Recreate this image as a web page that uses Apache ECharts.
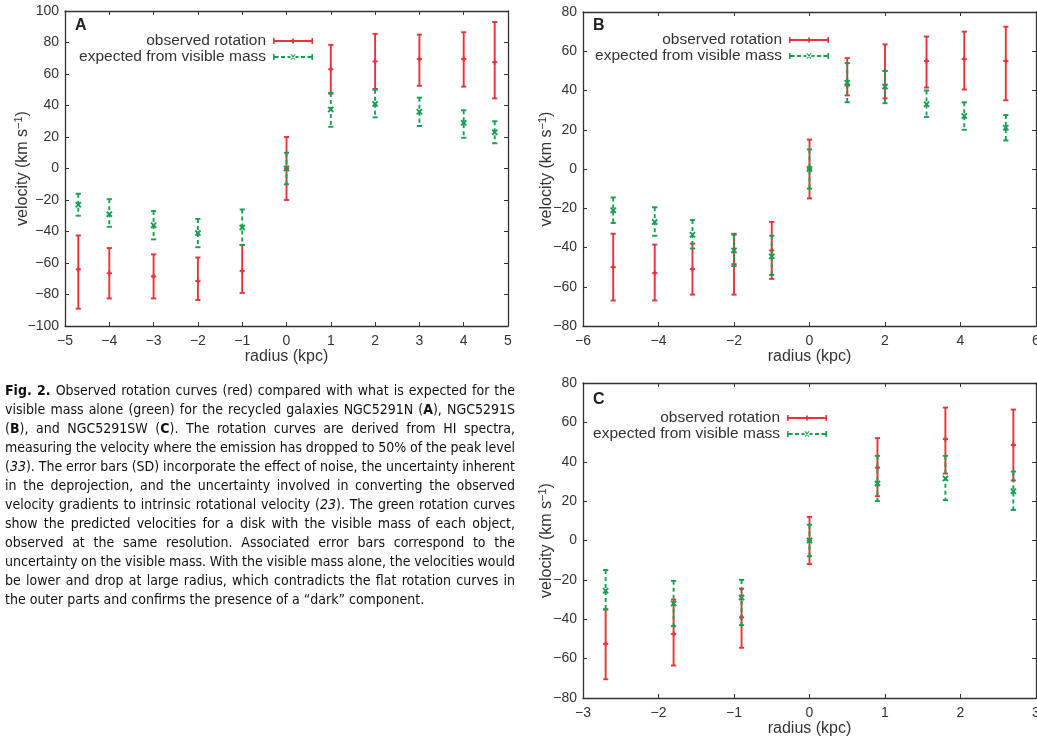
<!DOCTYPE html>
<html><head><meta charset="utf-8">
<script src="https://cdn.jsdelivr.net/npm/echarts@6.0.0/dist/echarts.min.js"></script>
<style>
html,body{margin:0;padding:0;background:#fff;}
#chart{position:absolute;left:0;top:0;width:1037px;height:740px;}
#caption{position:absolute;left:5px;top:381px;width:510px;font-family:"DejaVu Sans Condensed","Liberation Sans Narrow",sans-serif;font-size:14px;line-height:19px;color:#111;}
#caption .ln{white-space:nowrap;height:19px;}
#caption .ln span{display:inline-block;white-space:nowrap;transform-origin:0 50%;}
</style></head><body>
<div id="chart"></div>
<div id="caption"></div>
<script>
// ---------- data ----------
const radiusA = [-4.7, -4, -3, -2, -1, 0, 1, 2, 3, 4, 4.7];
const obsA    = [-64, -66.5, -68.5, -71.5, -65, 0, 63, 68, 69.5, 69.5, 67.5];
const obsALo  = [-89, -82.5, -82.5, -83.5, -79, -20, 47.5, 50.5, 52.5, 52, 44.5];
const obsAHi  = [-42.5, -50.5, -54.5, -56.5, -48.5, 20, 78.5, 85.5, 85, 86.5, 93];
const expA    = [-23, -29, -36, -41, -37.5, 0, 37.5, 41, 36, 29, 23];
const expALo  = [-30, -37, -45, -50, -48.5, -10, 26.5, 32.5, 27, 19.5, 16];
const expAHi  = [-16, -19.5, -27, -32, -26, 10, 48, 50, 45, 37, 30];

const radiusB = [-5.2, -4.1, -3.1, -2, -1, 0, 1, 2, 3.1, 4.1, 5.2];
const obsB    = [-50, -53, -51, -48.5, -41.5, 0, 42.5, 50, 55, 56, 55];
const obsBLo  = [-67, -67, -64, -64, -56, -15, 37.5, 36, 41.5, 40.5, 35];
const obsBHi  = [-33, -38.5, -38, -33, -27, 15, 56.5, 63.5, 67.5, 70, 72.5];
const expB    = [-21, -27, -33.5, -41.5, -44.5, 0, 44, 42, 33, 27, 21];
const expBLo  = [-27.5, -34, -40.5, -49.5, -54, -10, 34, 33.5, 26.5, 20, 14.5];
const expBHi  = [-14.5, -19.5, -26, -33.5, -34, 10, 54, 50, 40, 34, 27.5];

const radiusC = [-2.7, -1.8, -0.9, 0, 0.9, 1.8, 2.7];
const obsC    = [-52.5, -47.5, -39, 0, 37, 51.5, 48.5];
const obsCLo  = [-70.5, -63.5, -54.5, -12, 22.5, 34, 30.5];
const obsCHi  = [-35, -30, -24.5, 12, 52, 67.5, 66.5];
const expC    = [-25.5, -32, -29, 0, 29, 31.5, 25];
const expCLo  = [-35, -43.5, -43, -8, 20, 20.5, 15.5];
const expCHi  = [-15, -20.5, -20, 8, 43, 43, 35];

const panelLabels = ['A', 'B', 'C'];
const seriesNames = ['observed rotation', 'expected from visible mass'];
const xLabel = 'radius (kpc)';
const yLabel = 'velocity (km s{sup|\u22121})';

const captionLines = [
  '<b>Fig. 2.</b> Observed rotation curves (red) compared with what is expected for the',
  'visible mass alone (green) for the recycled galaxies NGC5291N (<b>A</b>), NGC5291S',
  '(<b>B</b>), and NGC5291SW (<b>C</b>). The rotation curves are derived from HI spectra,',
  'measuring the velocity where the emission has dropped to 50% of the peak level',
  '(<i>33</i>). The error bars (SD) incorporate the effect of noise, the uncertainty inherent',
  'in the deprojection, and the uncertainty involved in converting the observed',
  'velocity gradients to intrinsic rotational velocity (<i>23</i>). The green rotation curves',
  'show the predicted velocities for a disk with the visible mass of each object,',
  'observed at the same resolution. Associated error bars correspond to the',
  'uncertainty on the visible mass. With the visible mass alone, the velocities would',
  'be lower and drop at large radius, which contradicts the flat rotation curves in',
  'the outer parts and confirms the presence of a \u201cdark\u201d component.'
];

// ---------- styling ----------
const RED = '#e8333b', GREEN = '#16a050', AX = '#333';
const FONT = '"Liberation Sans", Arial, Helvetica, sans-serif';
const minus = v => String(v).replace('-', '\u2212');

const grids = [
  {left: 65, top: 11, width: 443, height: 315},
  {left: 583, top: 12, width: 453, height: 314},
  {left: 583, top: 383, width: 453, height: 315}
];
const ranges = [
  {x: [-5, 5, 1], y: [-100, 100, 20], yGap: 32},
  {x: [-6, 6, 2], y: [-80, 80, 20], yGap: 26},
  {x: [-3, 3, 1], y: [-80, 80, 20], yGap: 26}
];

const xAxes = [], yAxes = [];
ranges.forEach((r, g) => {
  const line = {show: true, onZero: false, lineStyle: {color: AX, width: 1.3}};
  const tick = {show: true, inside: true, length: 4, lineStyle: {color: AX, width: 1}};
  xAxes.push({type: 'value', gridIndex: g, position: 'bottom', min: r.x[0], max: r.x[1], interval: r.x[2],
    axisLine: line, axisTick: tick, splitLine: {show: false},
    axisLabel: {fontSize: 14, color: AX, margin: 8, fontFamily: FONT, formatter: minus},
    name: xLabel, nameLocation: 'middle', nameGap: 23, nameMoveOverlap: false,
    nameTextStyle: {fontSize: 16, color: AX, fontFamily: FONT}});
  xAxes.push({type: 'value', gridIndex: g, position: 'top', min: r.x[0], max: r.x[1], interval: r.x[2],
    axisLine: line, axisTick: tick, splitLine: {show: false}, axisLabel: {show: false}});
  yAxes.push({type: 'value', gridIndex: g, position: 'left', min: r.y[0], max: r.y[1], interval: r.y[2],
    axisLine: line, axisTick: tick, splitLine: {show: false},
    axisLabel: {fontSize: 14, color: AX, margin: 6, fontFamily: FONT, formatter: minus},
    name: yLabel, nameLocation: 'middle', nameGap: r.yGap, nameMoveOverlap: false,
    nameTextStyle: {fontSize: 16, color: AX, fontFamily: FONT,
      rich: {sup: {fontSize: 11, color: AX, fontFamily: FONT, verticalAlign: 'top', padding: [0, 0, 9, 0]}}}});
  yAxes.push({type: 'value', gridIndex: g, position: 'right', min: r.y[0], max: r.y[1], interval: r.y[2],
    axisLine: line, axisTick: tick, splitLine: {show: false}, axisLabel: {show: false}});
});

function errSeries(name, g, xs, ys, los, his, color, dashed, marker) {
  return {
    type: 'custom', name: name, xAxisIndex: g * 2, yAxisIndex: g * 2,
    itemStyle: {color: color},
    data: xs.map((x, i) => [x, ys[i], los[i], his[i]]),
    encode: {x: 0, y: [1, 2, 3]},
    renderItem: function (params, api) {
      const x = api.value(0), y = api.value(1), lo = api.value(2), hi = api.value(3);
      const t = api.coord([x, hi]), b = api.coord([x, lo]), c = api.coord([x, y]);
      const cx = c[0], w = 2.6, m = 2.6;
      const st = {stroke: color, lineWidth: 1.9, fill: null};
      const ds = dashed ? Object.assign({}, st, {lineDash: [4, 3]}) : st;
      const ch = [
        {type: 'line', shape: {x1: cx, y1: t[1], x2: cx, y2: b[1]}, style: ds},
        {type: 'line', shape: {x1: cx - w, y1: t[1], x2: cx + w, y2: t[1]}, style: st},
        {type: 'line', shape: {x1: cx - w, y1: b[1], x2: cx + w, y2: b[1]}, style: st}
      ];
      if (marker === '+') {
        ch.push({type: 'line', shape: {x1: cx - m, y1: c[1], x2: cx + m, y2: c[1]}, style: st});
        ch.push({type: 'line', shape: {x1: cx, y1: c[1] - m, x2: cx, y2: c[1] + m}, style: st});
      } else {
        ch.push({type: 'line', shape: {x1: cx - m, y1: c[1] - m, x2: cx + m, y2: c[1] + m}, style: st});
        ch.push({type: 'line', shape: {x1: cx - m, y1: c[1] + m, x2: cx + m, y2: c[1] - m}, style: st});
      }
      return {type: 'group', children: ch};
    }
  };
}

const series = [
  errSeries(seriesNames[0], 0, radiusA, obsA, obsALo, obsAHi, RED, false, '+'),
  errSeries(seriesNames[1], 0, radiusA, expA, expALo, expAHi, GREEN, true, 'x'),
  errSeries(seriesNames[0], 1, radiusB, obsB, obsBLo, obsBHi, RED, false, '+'),
  errSeries(seriesNames[1], 1, radiusB, expB, expBLo, expBHi, GREEN, true, 'x'),
  errSeries(seriesNames[0], 2, radiusC, obsC, obsCLo, obsCHi, RED, false, '+'),
  errSeries(seriesNames[1], 2, radiusC, expC, expCLo, expCHi, GREEN, true, 'x')
];

const redIcon = 'path://M0,3.1h40v1.8h-40z M0,1h1.6v6h-1.6z M38.4,1h1.6v6h-1.6z M19.1,1.4h1.8v5.2h-1.8z';
const greenIcon = 'path://M0,1h1.6v6h-1.6z M38.4,1h1.6v6h-1.6z M1.6,3.1h4v1.8h-4z M8,3.1h4v1.8h-4z M14.5,3.1h3v1.8h-3z M22.5,3.1h3v1.8h-3z M28,3.1h4v1.8h-4z M34.4,3.1h4v1.8h-4z M17.4,1.3l1.3,0l3.9,5.4l-1.3,0z M21.3,1.3l1.3,0l-3.9,5.4l-1.3,0z';

const legendPos = [{right: 724, top: 33}, {right: 208, top: 32}, {right: 210, top: 410}];
const legends = legendPos.map(p => ({
  orient: 'vertical', align: 'right', right: p.right, top: p.top, padding: 0,
  itemGap: 0, itemWidth: 40, itemHeight: 8, selectedMode: false,
  textStyle: {fontSize: 15.5, color: AX, lineHeight: 16, fontFamily: FONT, padding: [0, 2, 0, 0]},
  data: [
    {name: seriesNames[0], icon: redIcon, itemStyle: {color: RED}},
    {name: seriesNames[1], icon: greenIcon, itemStyle: {color: GREEN}}
  ]
}));

const titlePos = [{left: 75, top: 18}, {left: 593, top: 18}, {left: 593, top: 392}];
const titles = titlePos.map((p, i) => ({
  text: panelLabels[i], left: p.left, top: p.top, padding: 0,
  textStyle: {fontSize: 16, fontWeight: 'bold', color: '#222', fontFamily: FONT}
}));

const chart = echarts.init(document.getElementById('chart'), null, {renderer: 'canvas'});
chart.setOption({
  animation: false,
  backgroundColor: '#fff',
  title: titles,
  legend: legends,
  grid: grids.map(g => Object.assign({outerBoundsMode: 'none', containLabel: false}, g)),
  xAxis: xAxes,
  yAxis: yAxes,
  series: series
});

// ---------- caption (justified lines) ----------
const cap = document.getElementById('caption');
const W = 510;
captionLines.forEach((html, i) => {
  const d = document.createElement('div');
  d.className = 'ln';
  const s = document.createElement('span');
  s.innerHTML = html;
  d.appendChild(s);
  cap.appendChild(d);
  const last = i === captionLines.length - 1;
  const w = s.getBoundingClientRect().width;
  const spaces = (s.textContent.match(/ /g) || []).length;
  if (!last && spaces > 0) {
    const extra = (W - w) / spaces;
    if (extra >= -1.5) {
      s.style.wordSpacing = extra + 'px';
    } else {
      s.style.transform = 'scaleX(' + (W / w) + ')';
    }
  } else if (w > W) {
    s.style.transform = 'scaleX(' + (W / w) + ')';
  }
});
</script>
</body></html>
